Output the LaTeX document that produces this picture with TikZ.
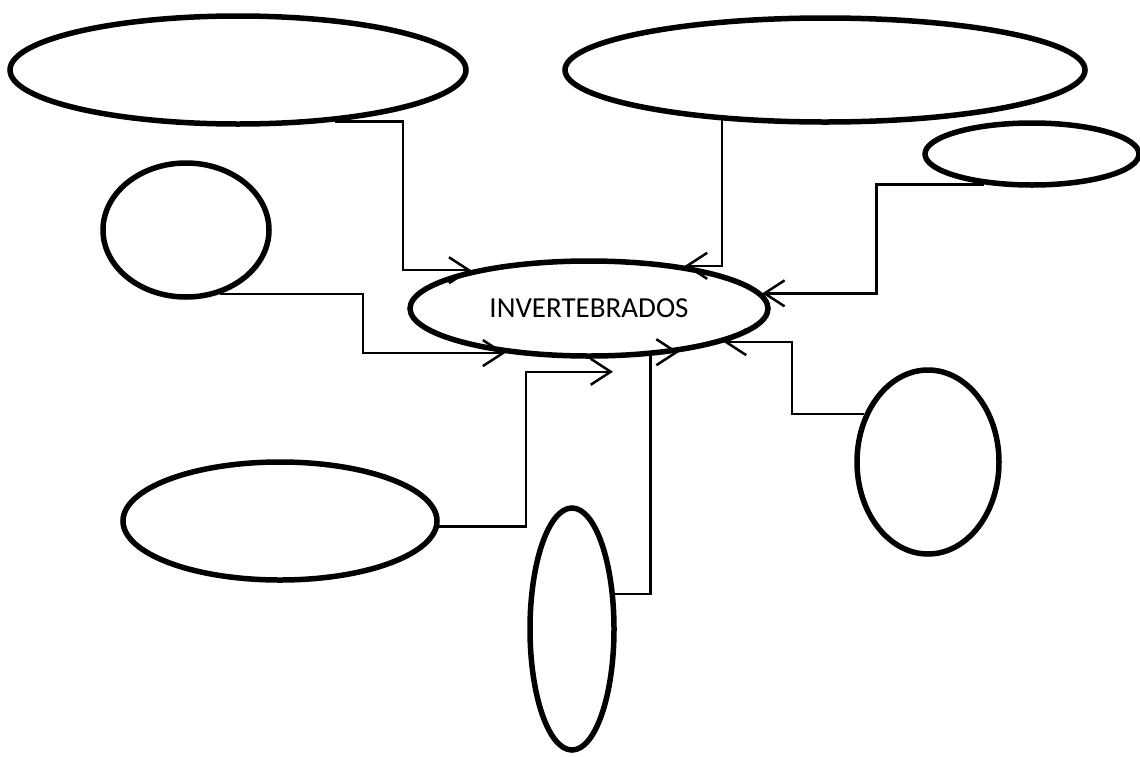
\documentclass[tikz,border=0pt]{standalone}
\usepackage{fontspec}
\setmainfont{Carlito}
\usepackage{tikz}
\usetikzlibrary{shapes.geometric,arrows.meta,calc}

\begin{document}
\begin{tikzpicture}[x=1pt,y=-1pt,
	bubble/.style={shape=ellipse,draw=black,line width=5.5pt,inner sep=0pt},
	link/.style={line width=2.5pt,-{Straight Barb[length=20pt,width=26pt]}}]
	
	\useasboundingbox (0,0) rectangle (1140,756);
	
	\node[bubble,minimum width=456pt,minimum height=108pt] (tl) at (238,70) {};
	\node[bubble,minimum width=520pt,minimum height=104pt] (tm) at (825,70) {};
	\node[bubble,minimum width=214pt,minimum height=62pt] (sr) at (1032,154) {};
	\node[bubble,minimum width=166pt,minimum height=134pt] (cl) at (186,230) {};
	\node[bubble,minimum width=358pt,minimum height=95pt,font=\fontsize{29}{35}\selectfont] (inv) at (589,308.5) {INVERTEBRADOS};
	\node[bubble,minimum width=314pt,minimum height=118pt] (bl) at (280,521) {};
	\node[bubble,minimum width=84pt,minimum height=242pt] (tall) at (572,629) {};
	\node[bubble,minimum width=142pt,minimum height=184pt] (re) at (928,462) {};
	
	\coordinate (e5) at ([shift={(24,13)}]inv.south);
	
	\draw[link] (tl.-28) -| ($(inv.162)+(-68,0)$) -- (inv.162);
	\draw[link] (tm.-154) |- (inv.24);
	\draw[link] (sr.-148) -| ($(inv.5)+(114,0)$) -- (inv.5);
	\draw[link] (cl.-62) -| ($(inv.-152)+(-142,0)$) -- (inv.-152);
	\draw[link] (bl.-2) -| ($(e5)+(-87,0)$) -- (e5);
	\draw[link] (tall.39) -| ($(inv.-26)+(-28,0)$) -- (inv.-26);
	\draw[link] (re.143) -| ($(inv.-14)+(68,0)$) -- (inv.-14);
	
\end{tikzpicture}
\end{document}
